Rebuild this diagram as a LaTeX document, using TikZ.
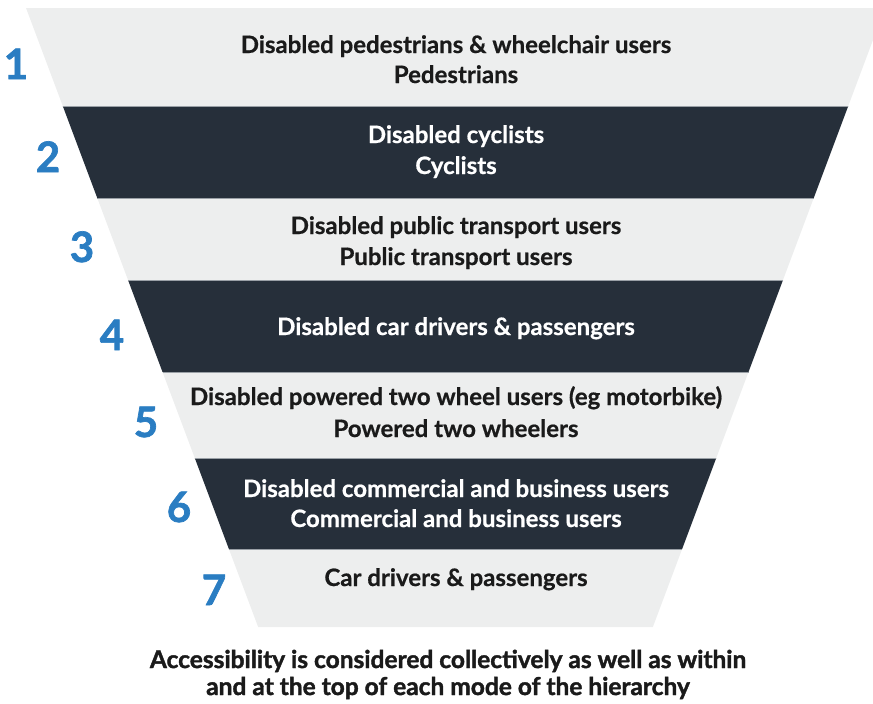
\documentclass[tikz,border=0pt]{standalone}
\usepackage{fontspec}
\setmainfont{Lato}
\newfontfamily\heavyfont{Lato}[BoldFeatures={FakeBold=1.6}]
\newfontfamily\midfont{Lato}[BoldFeatures={FakeBold=0.6}]
\definecolor{bandlight}{HTML}{EDEEEE}
\definecolor{banddark}{HTML}{262F3A}
\definecolor{numblue}{HTML}{2A7DC2}
\definecolor{sepgrey}{HTML}{9AA0A6}
\definecolor{txtdark}{HTML}{1A1A1A}
\tikzset{
  bandtxt/.style={font=\fontsize{24}{28}\midfont\bfseries, anchor=base, inner sep=0pt},
  onlight/.style={bandtxt, text=txtdark},
  ondark/.style={bandtxt, text=white},
  numtxt/.style={font=\fontsize{42}{42}\heavyfont\bfseries, text=numblue, anchor=base, inner sep=0pt},
  foottxt/.style={font=\fontsize{24.5}{28}\heavyfont\bfseries, text=txtdark, anchor=base, inner sep=0pt},
}
\begin{document}
\begin{tikzpicture}[x=1pt,y=-1pt]
\useasboundingbox (0,0) rectangle (873,704);
\begin{scope}
\clip (0,0) rectangle (873,704);
\foreach \ya/\yb/\c in {8/106/bandlight,106/198/banddark,198/280/bandlight,280/372/banddark,372/458/bandlight,458/549/banddark,549/627/bandlight}{
  \pgfmathsetmacro\la{26+0.375*(\ya-8)}
  \pgfmathsetmacro\ra{885-0.375*(\ya-8)}
  \pgfmathsetmacro\lb{26+0.375*(\yb-8)}
  \pgfmathsetmacro\rb{885-0.375*(\yb-8)}
  \fill[\c] (\la,\ya) -- (\ra,\ya) -- (\rb,\yb) -- (\lb,\yb) -- cycle;
}
\foreach \y in {106,198,280,372,458,549}{
  \pgfmathsetmacro\l{26+0.375*(\y-8)}
  \pgfmathsetmacro\r{885-0.375*(\y-8)}
  \draw[sepgrey, line width=0.8pt] (\l,\y) -- (\r,\y);
}
\end{scope}
% band texts
\node[onlight] (t1a) at (456,53) {Disabled pedestrians \& wheelchair users};
\node[onlight] (t1b) at (456,83) {Pedestrians};
\node[ondark] (t2a) at (456,143) {Disabled cyclists};
\node[ondark] (t2b) at (456,174) {Cyclists};
\node[onlight] (t3a) at (456,234) {Disabled public transport users};
\node[onlight] (t3b) at (456,265) {Public transport users};
\node[ondark] (t4a) at (456,335) {Disabled car drivers \& passengers};
\node[onlight] (t5a) at (456,405) {Disabled powered two wheel users (eg motorbike)};
\node[onlight] (t5b) at (456,437) {Powered two wheelers};
\node[ondark] (t6a) at (456,497) {Disabled commercial and business users};
\node[ondark] (t6b) at (456,527) {Commercial and business users};
\node[onlight] (t7a) at (456,586) {Car drivers \& passengers};
% numbers
\node[numtxt] (n1) at (16,79) {1};
\node[numtxt] (n2) at (48,172) {2};
\node[numtxt] (n3) at (82,262) {3};
\node[numtxt] (n4) at (112,350) {4};
\node[numtxt] (n5) at (146,437) {5};
\node[numtxt] (n6) at (179,522) {6};
\node[numtxt] (n7) at (214,605) {7};
% footer
\node[foottxt] (f1) at (448,668) {Accessibility is considered collectively as well as within};
\node[foottxt] (f2) at (448,695) {and at the top of each mode of the hierarchy};
\end{tikzpicture}
\end{document}
